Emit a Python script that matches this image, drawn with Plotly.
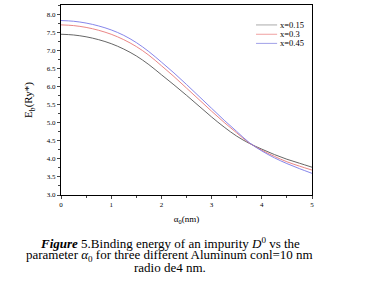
import plotly.graph_objects as go

alpha0 = [0, 0.25, 0.5, 0.75, 1, 1.25, 1.5, 1.75, 2, 2.25, 2.5, 2.75, 3, 3.25, 3.5, 3.75, 4, 4.25, 4.5, 4.75, 5]
eb_015 = [7.45, 7.43, 7.38, 7.30, 7.19, 7.04, 6.85, 6.61, 6.33, 6.05, 5.76, 5.46, 5.16, 4.88, 4.63, 4.43, 4.27, 4.12, 3.99, 3.88, 3.77]
eb_030 = [7.71, 7.69, 7.64, 7.56, 7.45, 7.30, 7.11, 6.87, 6.58, 6.28, 5.96, 5.64, 5.32, 5.01, 4.72, 4.44, 4.24, 4.07, 3.92, 3.80, 3.69]
eb_045 = [7.83, 7.81, 7.76, 7.68, 7.57, 7.42, 7.22, 6.97, 6.68, 6.38, 6.06, 5.73, 5.40, 5.07, 4.76, 4.45, 4.22, 4.03, 3.87, 3.73, 3.60]
series_names = ["x=0.15", "x=0.3", "x=0.45"]
series_colors = ["#555555", "#e87878", "#7878e8"]
legend_colors = ["#aaaaaa", "#f0a0a0", "#a0a0e8"]
y_ticks = [3.0, 3.5, 4.0, 4.5, 5.0, 5.5, 6.0, 6.5, 7.0, 7.5, 8.0]
y_ticklabels = ["3.0", "3.5", "4.0", "4.5", "5.0", "5.5", "6.0", "6.5", "7.0", "7.5", "8.0"]
x_ticks = [0, 1, 2, 3, 4, 5]

font_family = "Liberation Serif, Times New Roman, serif"

fig = go.Figure()
for name, vals, col in zip(series_names, [eb_015, eb_030, eb_045], series_colors):
    fig.add_trace(go.Scatter(x=alpha0, y=vals, mode="lines", name=name, showlegend=False,
                             line=dict(color=col, width=0.9, shape="spline")))

fig.update_layout(
    width=366, height=289,
    margin=dict(l=61, r=54, t=5, b=94),
    paper_bgcolor="white", plot_bgcolor="white",
    font=dict(family=font_family, color="black", size=7),
    showlegend=False,
    xaxis=dict(range=[0, 5], tickvals=x_ticks, ticks="outside", ticklen=3,
               minor=dict(tickvals=[0.5, 1.5, 2.5, 3.5, 4.5], ticks="outside", ticklen=2),
               showline=True, linecolor="black", linewidth=1, mirror=True,
               showgrid=False, zeroline=False,
               tickfont=dict(size=7, family=font_family),
               title=dict(text="α<sub>0</sub>(nm)", font=dict(size=9, family=font_family), standoff=7)),
    yaxis=dict(range=[3.0, 8.26], tickvals=y_ticks, ticktext=y_ticklabels,
               ticks="outside", ticklen=3,
               minor=dict(tickvals=[3.25, 3.75, 4.25, 4.75, 5.25, 5.75, 6.25, 6.75, 7.25, 7.75, 8.25],
                          ticks="outside", ticklen=2),
               showline=True, linecolor="black", linewidth=1, mirror=True,
               showgrid=False, zeroline=False,
               tickfont=dict(size=7, family=font_family),
               title=dict(text="E<sub>b</sub>(Ry*)", font=dict(size=11, family=font_family), standoff=11)),
)

# manual legend (compact rows like the reference)
legend_y = [0.895, 0.846, 0.798]
for name, col, yy in zip(series_names, legend_colors, legend_y):
    fig.add_shape(type="line", xref="paper", yref="paper", x0=0.777, x1=0.861, y0=yy, y1=yy,
                  line=dict(color=col, width=1))
    fig.add_annotation(text=name, xref="paper", yref="paper", x=0.863, y=yy,
                       xanchor="left", yanchor="middle", showarrow=False,
                       font=dict(size=8.5, family=font_family, color="black"))

caption = [
    "<b><i>Figure</i></b> 5.Binding energy of an impurity <i>D</i><sup>0</sup> vs the",
    "parameter <i>α</i><sub>0</sub> for three different Aluminum conl=10 nm",
    "radio de4 nm.",
]
caption_y = [-0.2509, -0.3174, -0.3821]
for line, yy in zip(caption, caption_y):
    fig.add_annotation(text=line, xref="paper", yref="paper", x=0.434, y=yy,
                       xanchor="center", yanchor="middle", showarrow=False,
                       font=dict(size=13, family=font_family, color="black"))

fig.write_html("out.html", config={"displayModeBar": False},
               post_script="document.body.style.margin='0';")
